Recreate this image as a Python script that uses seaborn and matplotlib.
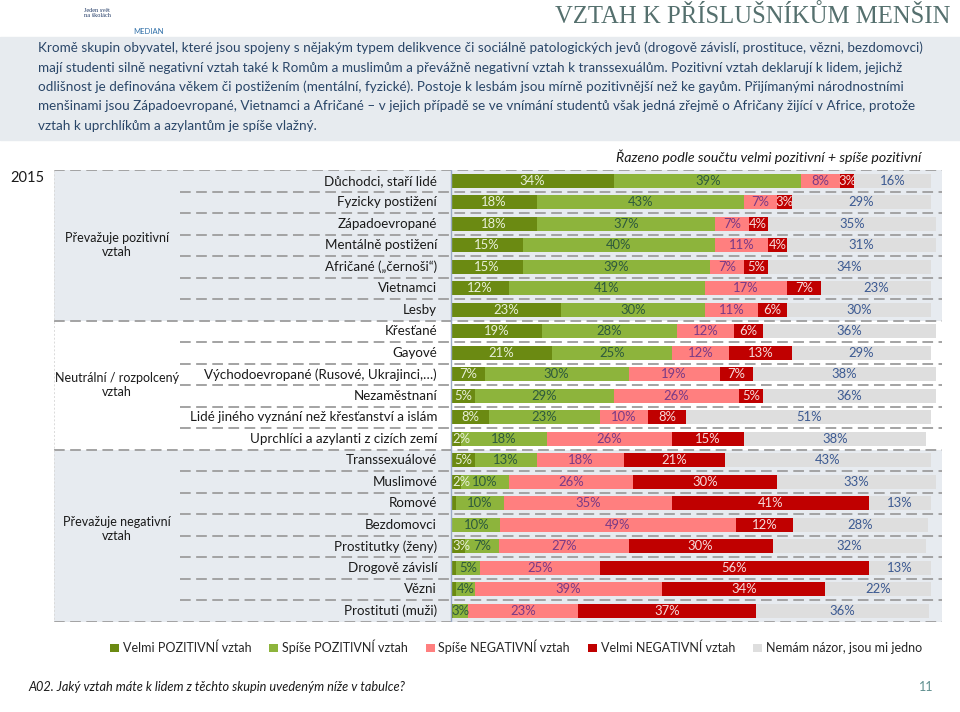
import numpy as np
import pandas as pd
import matplotlib
matplotlib.use("Agg")
import matplotlib.pyplot as plt
import seaborn as sns
from matplotlib.patches import Patch, Rectangle

# Data (percent)
skupiny = [
    "Důchodci, staří lidé", "Fyzicky postižení", "Západoevropané",
    "Mentálně postižení", "Afričané („černoši“)", "Vietnamci", "Lesby",
    "Křesťané", "Gayové", "Východoevropané (Rusové, Ukrajinci,…)",
    "Nezaměstnaní", "Lidé jiného vyznání než křesťanství a islám",
    "Uprchlíci a azylanti z cizích zemí", "Transsexuálové", "Muslimové",
    "Romové", "Bezdomovci", "Prostitutky (ženy)", "Drogově závislí",
    "Vězni", "Prostituti (muži)",
]
velmi_poz = [34, 18, 18, 15, 15, 12, 23, 19, 21, 7, 5, 8, 2, 5, 2, 1, 0.3, 3, 1, 1, 0.5]
spise_poz = [39, 43, 37, 40, 39, 41, 30, 28, 25, 30, 29, 23, 18, 13, 10, 10, 10, 7, 5, 4, 3]
spise_neg = [8, 7, 7, 11, 7, 17, 11, 12, 12, 19, 26, 10, 26, 18, 26, 35, 49, 27, 25, 39, 23]
velmi_neg = [3, 3, 4, 4, 5, 7, 6, 6, 13, 7, 5, 8, 15, 21, 30, 41, 12, 30, 56, 34, 37]
nemam = [16, 29, 35, 31, 34, 23, 30, 36, 29, 38, 36, 51, 38, 43, 33, 13, 28, 32, 13, 22, 36]

kategorie = ["Velmi POZITIVNÍ vztah", "Spíše POZITIVNÍ vztah", "Spíše NEGATIVNÍ vztah",
             "Velmi NEGATIVNÍ vztah", "Nemám názor, jsou mi jedno"]
skupiny_vztahu = ["Převažuje pozitivní\nvztah", "Neutrální / rozpolcený\nvztah",
                  "Převažuje negativní\nvztah"]
pocty_ve_skupine = [7, 6, 8]

barvy = ["#6B8A12", "#8DB43C", "#FF7F7F", "#C00000", "#DEDEDE"]
barvy_popisku = ["#E8F0D8", "#2E5A3C", "#7A3A86", "#F6DCDC", "#3C5A92"]

df = pd.DataFrame({"skupina": skupiny})
for k, v in zip(kategorie, [velmi_poz, spise_poz, spise_neg, velmi_neg, nemam]):
    df[k] = v
kum = df[kategorie].cumsum(axis=1)

W, H = 960, 712
sns.set_style("white")
plt.rcParams["font.family"] = ["Lato", "DejaVu Sans"]

fig = plt.figure(figsize=(W / 100, H / 100), dpi=100)

def fx(px):
    return px / W

def fy(py):
    return 1 - py / H

# axes: x 54..942 px, bars start at 451 px, 4.8 px per percent
px_pct = 4.8
x0_px, ax_l, ax_r = 451, 54, 942
top_px, row_px = 170, 21.5
n = len(skupiny)
ax = fig.add_axes([fx(ax_l), fy(top_px + n * row_px), (ax_r - ax_l) / W, n * row_px / H])

for i in reversed(range(len(kategorie))):
    d = pd.DataFrame({"skupina": skupiny, "x": kum[kategorie[i]].values})
    sns.barplot(data=d, x="x", y="skupina", order=skupiny, orient="h", color=barvy[i],
                saturation=1, width=0.64, linewidth=0, errorbar=None, ax=ax, zorder=3)

xl = -(x0_px - ax_l) / px_pct
xr = 100 + (ax_r - 931) / px_pct
xlab = -(x0_px - 180) / px_pct
ax.set_xlim(xl, xr)
ax.set_ylim(n - 0.5, -0.5)
ax.set_xticks([])
ax.set_yticks([])
ax.set_xlabel("")
ax.set_ylabel("")
for s in ax.spines.values():
    s.set_visible(False)

# group backgrounds
start = 0
hranice = [-0.5]
for j, cnt in enumerate(pocty_ve_skupine):
    if j != 1:
        ax.axhspan(start - 0.5, start + cnt - 0.5, color="#E7EBF0", zorder=0, lw=0)
    yc = start + (cnt - 1) / 2 - (0.3 if j == 2 else 0)
    ax.text((xl + xlab) / 2, yc, skupiny_vztahu[j], ha="center", va="center",
            fontsize=9.0, color="#1a1a1a", linespacing=1.15)
    start += cnt
    hranice.append(start - 0.5)

# dashed row separators
dash = (0, (5.5, 2.8))
for r in range(n + 1):
    y = r - 0.5
    x_from = xl if y in hranice else xlab
    ax.plot([x_from, xr], [y, y], color="#A3A3A3", lw=1.4, ls=dash, zorder=4,
            solid_capstyle="butt", dash_capstyle="butt")
ax.axvline(0, color="#9AAAC4", lw=1, zorder=5)
ax.plot([xl, xl], [-0.5, n - 0.5], color="#DADADA", lw=0.7, ls=(0, (2, 2)), zorder=4)
ax.plot([xr - 0.1, xr - 0.1], [-0.5, n - 0.5], color="#D4D4D4", lw=0.7, ls=(0, (2, 2)), zorder=4)

# category labels
for i, s in enumerate(skupiny):
    ax.text(-14 / px_pct, i, s, ha="right", va="center", fontsize=9.6, color="#1a1a1a")

# value labels
for i in range(n):
    left = 0
    for k, kat in enumerate(kategorie):
        v = df.loc[i, kat]
        if v >= 2:
            xc = left + v / 2
            if k == 0:
                xc = max(xc, 2.2)
            ax.text(xc, i, f"{v:.0f}%", ha="center", va="center",
                    fontsize=9.4, color=barvy_popisku[k], zorder=6)
        left += v

# header
fig.text(fx(950), fy(17), "VZTAH K PŘÍSLUŠNÍKŮM MENŠIN", ha="right", va="center",
         fontsize=17.8, family=["Liberation Serif", "DejaVu Serif"], color="#55706E")
fig.text(fx(97), fy(13), "Jeden svět\nna školách", ha="center", va="center",
         fontsize=4.5, family=["Liberation Serif", "DejaVu Serif"], color="#1F3864",
         linespacing=1.0)
fig.text(fx(148), fy(31), "MEDIAN", ha="center", va="center", fontsize=5.5,
         color="#2F6FA8")
fig.patches.append(Rectangle((0, fy(140)), 1, (140 - 37) / H, transform=fig.transFigure,
                             color="#E7EBEF", zorder=0))
radky = [
    "Kromě skupin obyvatel, které jsou spojeny s nějakým typem delikvence či sociálně patologických jevů (drogově závislí, prostituce, vězni, bezdomovci)",
    "mají studenti silně negativní vztah také k Romům a muslimům a převážně negativní vztah k transsexuálům. Pozitivní vztah deklarují k lidem, jejichž",
    "odlišnost je definována věkem či postižením (mentální, fyzické). Postoje k lesbám jsou mírně pozitivnější než ke gayům. Přijímanými národnostními",
    "menšinami jsou Západoevropané, Vietnamci a Afričané – v jejich případě se ve vnímání studentů však jedná zřejmě o Afričany žijící v Africe, protože",
    "vztah k uprchlíkům a azylantům je spíše vlažný.",
]
for j, t in enumerate(radky):
    fig.text(fx(38), fy(48 + j * 19.5), t, ha="left", va="center", fontsize=9.75,
             color="#2A4668")

fig.text(fx(921), fy(157), "Řazeno podle součtu velmi pozitivní + spíše pozitivní",
         ha="right", va="center", fontsize=10.2, style="italic", color="#1a1a1a")
fig.text(fx(10), fy(178), "2015", ha="left", va="center", fontsize=10.5, color="#1a1a1a")

# legend
handles = [Patch(facecolor=c, edgecolor="none", label=k) for c, k in zip(barvy, kategorie)]
fig.legend(handles=handles, loc="center", bbox_to_anchor=(fx(516), fy(647)), ncol=5,
           frameon=False, fontsize=9.0, handlelength=0.7, handleheight=0.7,
           handletextpad=0.3, columnspacing=1.45)

# footer
fig.text(fx(28), fy(687), "A02. Jaký vztah máte k lidem z těchto skupin uvedeným níže v tabulce?",
         ha="left", va="center", fontsize=9.2, style="italic", color="#1a1a1a")
fig.text(fx(926), fy(687), "11", ha="center", va="center", fontsize=9, color="#5F8F8F")

fig.savefig("out.png", dpi=100)
